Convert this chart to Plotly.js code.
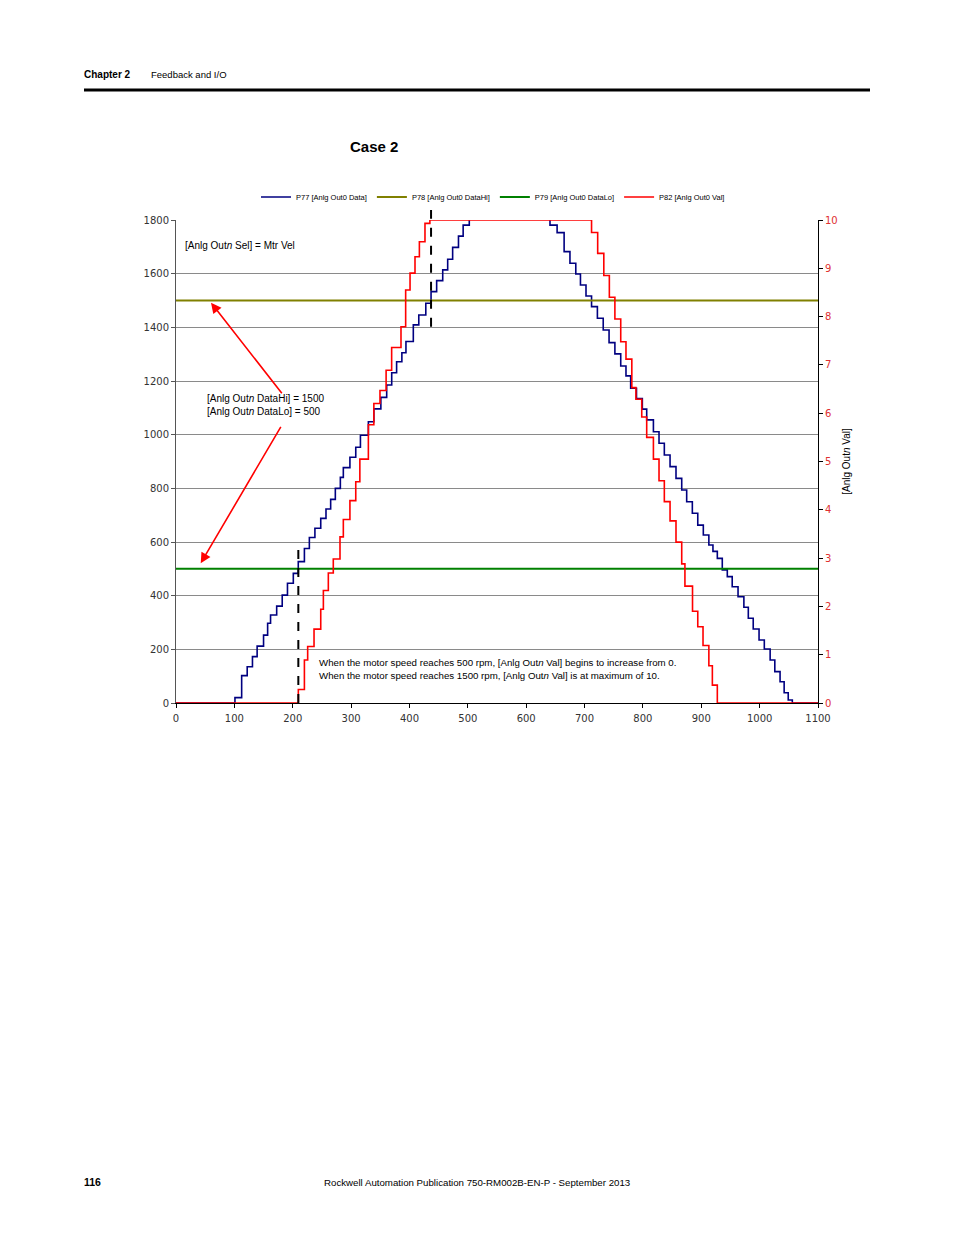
<!DOCTYPE html>
<html>
<head>
<meta charset="utf-8">
<script src="https://cdn.plot.ly/plotly-3.0.1.min.js"></script>
<style>
  html, body { margin: 0; padding: 0; background: #fff; }
  #chart { width: 954px; height: 1235px; }
</style>
</head>
<body>
<div id="chart"></div>
<script>
// ---- Data ----
const xTicks = [0, 100, 200, 300, 400, 500, 600, 700, 800, 900, 1000, 1100];
const leftTicks = [0, 200, 400, 600, 800, 1000, 1200, 1400, 1600, 1800];
const rightTicks = [0, 1, 2, 3, 4, 5, 6, 7, 8, 9, 10];

// P77 [Anlg Out0 Data] - motor velocity steps (left axis)
const p77X = [0, 101, 112.5, 122, 131, 139, 150, 157, 162, 172.5, 182, 191, 201, 209.5, 220, 228.5, 238, 248, 257, 265, 273, 281.6, 286.7, 298, 308, 316, 329.6, 339, 351, 361, 369.6, 378, 387, 394, 406.6, 416, 428, 437, 446.6, 457, 465.5, 474, 484, 492, 502.5,
              640.8, 653, 665, 675, 685, 693, 702.5, 712, 722, 732, 742, 752, 762, 771, 779, 789, 799, 806.5, 818, 827.6, 836.7, 846.5, 856.7, 866.5, 875, 884.7, 894, 903.5, 913, 920, 927.5, 936, 944.6, 953, 963, 973, 980.6, 989, 999, 1008, 1018, 1026, 1035, 1042, 1049, 1056, 1100];
const p77Y = [0, 20, 102, 135, 173, 212, 253, 297, 328, 361, 402, 446, 483, 527, 576, 617, 651, 688, 723, 759, 800, 841, 877, 916, 953, 998, 1048, 1096, 1139, 1185, 1231, 1272, 1305, 1347, 1409, 1446, 1490, 1533, 1574, 1614, 1654, 1698, 1740, 1781, 1830,
              1781, 1753, 1682, 1639, 1599, 1558, 1517, 1477, 1434, 1390, 1343, 1301, 1256, 1219, 1173, 1135, 1095, 1055, 1011, 968, 924, 881, 837, 794, 750, 707, 663, 626, 589, 565, 539, 496, 471, 433, 396, 357, 316, 276, 235, 201, 160, 117, 79, 38, 11, 0, 0];

// P78 [Anlg Out0 DataHi] and P79 [Anlg Out0 DataLo]
const p78X = [0, 1100];
const p78Y = [1500, 1500];
const p79X = [0, 1100];
const p79Y = [500, 500];

// P82 [Anlg Out0 Val] (right axis)
const p82X = [0, 209.6, 220, 225.6, 236.5, 248, 252.5, 261, 269.5, 281, 286.7, 298, 308, 315, 329.6, 339, 349.5, 360, 369.5, 385.5, 393.5, 401, 409.5, 417, 426.6, 435,
              712, 722.5, 733, 742.5, 752, 762, 771, 781, 788, 798, 806.5, 818, 827.6, 836.7, 846.5, 856.7, 866.5, 872, 885, 894, 903, 913, 919, 927.5, 1100];
const p82Y = [0, 0.28, 0.89, 1.17, 1.53, 1.94, 2.33, 2.69, 2.98, 3.44, 3.80, 4.19, 4.58, 5.05, 5.76, 6.2, 6.47, 6.89, 7.36, 7.79, 8.55, 8.9, 9.24, 9.55, 9.93, 10,
              9.74, 9.31, 8.85, 8.4, 7.95, 7.48, 7.12, 6.53, 6.29, 5.92, 5.5, 5.05, 4.6, 4.17, 3.77, 3.33, 2.88, 2.42, 1.9, 1.58, 1.19, 0.77, 0.37, 0, 0];

// ---- Page geometry helpers (plot area: x 176..818, y 220..703) ----
const L = 176, R = 818, T = 220, B = 703;
const PX = px => (px - L) / (R - L);
const PY = py => (B - py) / (B - T);
const DX = px => (px - L) / (R - L) * 1100;
const DY = py => (B - py) / (B - T) * 1800;

const textFont = "Liberation Sans, Arial, sans-serif";
const tickFont = "DejaVu Sans, Verdana, sans-serif";

const traces = [
  { x: p77X, y: p77Y, name: 'P77 [Anlg Out0 Data]', type: 'scatter', mode: 'lines',
    line: { color: '#000080', width: 1.6, shape: 'hv' } },
  { x: p78X, y: p78Y, name: 'P78 [Anlg Out0 DataHi]', type: 'scatter', mode: 'lines',
    line: { color: '#808000', width: 2 } },
  { x: p79X, y: p79Y, name: 'P79 [Anlg Out0 DataLo]', type: 'scatter', mode: 'lines',
    line: { color: '#008000', width: 2 } },
  { x: p82X, y: p82Y, name: 'P82 [Anlg Out0 Val]', type: 'scatter', mode: 'lines', yaxis: 'y2',
    line: { color: '#ff0000', width: 1.6, shape: 'hv' } }
];

const layout = {
  width: 954, height: 1235,
  margin: { l: L, r: 954 - R, t: T, b: 1235 - B, pad: 0 },
  paper_bgcolor: '#ffffff', plot_bgcolor: '#ffffff',
  showlegend: true,
  legend: {
    orientation: 'h', x: PX(493), xanchor: 'center', y: PY(197), yanchor: 'middle',
    font: { family: textFont, size: 7.5, color: '#000' },
    bgcolor: 'rgba(0,0,0,0)', itemwidth: 30, tracegroupgap: 0
  },
  xaxis: {
    range: [0, 1100], tickvals: xTicks, ticktext: xTicks.map(String),
    showgrid: false, zeroline: false, showline: true, linecolor: '#000', linewidth: 1,
    ticks: 'outside', ticklen: 4, tickcolor: '#000', ticklabelstandoff: 2,
    tickfont: { family: tickFont, size: 10, color: '#333' }
  },
  yaxis: {
    range: [0, 1800], tickvals: leftTicks, ticktext: leftTicks.map(String),
    showgrid: true, gridcolor: '#8a8a8a', gridwidth: 1,
    zeroline: false, showline: true, linecolor: '#555', linewidth: 1,
    ticks: 'outside', ticklen: 4, tickcolor: '#555',
    tickfont: { family: tickFont, size: 10, color: '#333' }
  },
  yaxis2: {
    overlaying: 'y', side: 'right', range: [0, 10],
    tickvals: rightTicks, ticktext: rightTicks.map(String),
    showgrid: false, zeroline: false, showline: true, linecolor: '#000', linewidth: 1,
    ticks: 'outside', ticklen: 4, tickcolor: '#000',
    tickfont: { family: tickFont, size: 10, color: '#e03030' },
    title: { text: '[Anlg Out<i>n</i> Val]', font: { family: textFont, size: 10, color: '#000' }, standoff: 6 }
  },
  shapes: [
    // header rule
    { type: 'line', xref: 'paper', yref: 'paper', x0: PX(84), x1: PX(870), y0: PY(90), y1: PY(90),
      line: { color: '#000', width: 3 } },
    // dashed markers
    { type: 'line', xref: 'x', yref: 'y', x0: 209.6, x1: 209.6, y0: 0, y1: DY(542),
      line: { color: '#000', width: 2, dash: 'dash' } },
    { type: 'line', xref: 'x', yref: 'paper', x0: 437, x1: 437, y0: 1402 / 1800, y1: PY(210),
      line: { color: '#000', width: 2, dash: 'dash' } }
  ],
  annotations: [
    // header
    { xref: 'paper', yref: 'paper', x: PX(82), y: PY(74), xanchor: 'left', yanchor: 'middle', showarrow: false,
      text: '<b>Chapter 2</b>', font: { family: textFont, size: 10, color: '#000' } },
    { xref: 'paper', yref: 'paper', x: PX(149), y: PY(74), xanchor: 'left', yanchor: 'middle', showarrow: false,
      text: 'Feedback and I/O', font: { family: textFont, size: 9.5, color: '#000' } },
    // chart title
    { xref: 'paper', yref: 'paper', x: PX(348), y: PY(147), xanchor: 'left', yanchor: 'middle', showarrow: false,
      text: '<b>Case 2</b>', font: { family: textFont, size: 15, color: '#000' } },
    // text notes
    { xref: 'x', yref: 'y', x: DX(183), y: DY(245), xanchor: 'left', yanchor: 'middle', showarrow: false,
      text: '[Anlg Out<i>n</i> Sel] = Mtr Vel', font: { family: textFont, size: 10, color: '#000' } },
    { xref: 'x', yref: 'y', x: DX(205), y: DY(404.5), xanchor: 'left', yanchor: 'middle', showarrow: false, align: 'left',
      text: '[Anlg Out<i>n</i> DataHi] = 1500<br>[Anlg Out<i>n</i> DataLo] = 500', font: { family: textFont, size: 10, color: '#000' } },
    { xref: 'x', yref: 'y', x: DX(317), y: DY(669), xanchor: 'left', yanchor: 'middle', showarrow: false, align: 'left',
      text: 'When the motor speed reaches 500 rpm, [Anlg Out<i>n</i> Val] begins to increase from 0.<br>When the motor speed reaches 1500 rpm, [Anlg Out<i>n</i> Val] is at maximum of 10.',
      font: { family: textFont, size: 9.7, color: '#000' } },
    // arrows
    { xref: 'x', yref: 'y', x: DX(211), y: DY(302.7), ax: 72, ay: 92, text: '',
      showarrow: true, arrowhead: 2, arrowsize: 1.3, arrowwidth: 1.6, arrowcolor: '#ff0000', standoff: 0, startstandoff: 0 },
    { xref: 'x', yref: 'y', x: DX(200.7), y: DY(563.3), ax: 81, ay: -138, text: '',
      showarrow: true, arrowhead: 2, arrowsize: 1.3, arrowwidth: 1.6, arrowcolor: '#ff0000', standoff: 0, startstandoff: 0 },
    // footer
    { xref: 'paper', yref: 'paper', x: PX(82), y: PY(1182), xanchor: 'left', yanchor: 'middle', showarrow: false,
      text: '<b>116</b>', font: { family: textFont, size: 10.5, color: '#000' } },
    { xref: 'paper', yref: 'paper', x: PX(477), y: PY(1182), xanchor: 'center', yanchor: 'middle', showarrow: false,
      text: 'Rockwell Automation Publication 750-RM002B-EN-P - September 2013', font: { family: textFont, size: 9.7, color: '#000' } }
  ]
};

Plotly.newPlot('chart', traces, layout, { displayModeBar: false, staticPlot: true });
</script>
</body>
</html>
